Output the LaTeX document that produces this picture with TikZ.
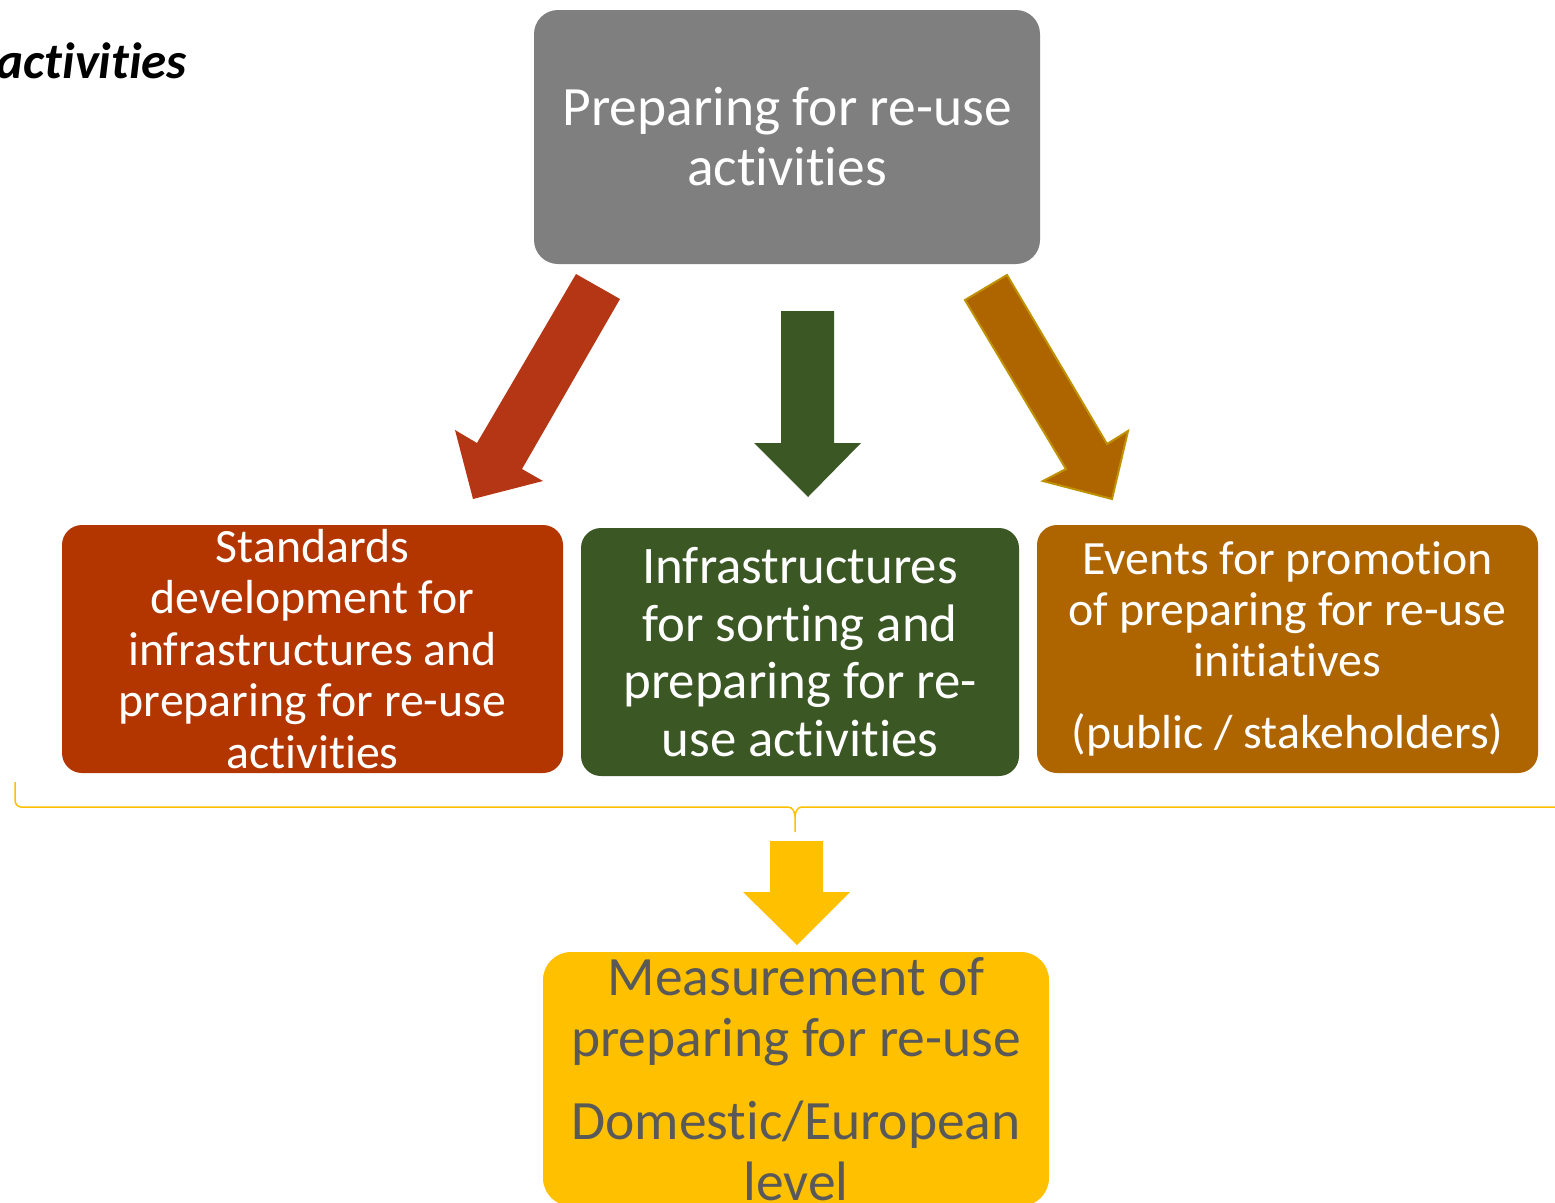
\documentclass[tikz,border=0pt]{standalone}
\usepackage{fontspec}
\setmainfont{Carlito}[Ligatures=NoCommon]
\definecolor{cgray}{HTML}{7F7F7F}
\definecolor{cred}{HTML}{B33500}
\definecolor{credarrow}{HTML}{B43614}
\definecolor{cgreen}{HTML}{3A5724}
\definecolor{cbrown}{HTML}{AE6500}
\definecolor{cbrownline}{HTML}{BF9000}
\definecolor{cyellow}{HTML}{FFC000}
\definecolor{ctext}{HTML}{595959}
\begin{document}
\begin{tikzpicture}[x=1pt,y=-1pt,
  box/.style={rounded corners=24pt, draw=none, align=center, inner sep=0pt, text=white},
  brace/.style={draw=cyellow, line width=1.5pt}]
\useasboundingbox (0,0) rectangle (1555,1202);
% title fragment
\node[anchor=base east, inner sep=0pt, font=\fontsize{51}{60}\selectfont\bfseries\itshape] (title) at (187,78) {activities};
% boxes
\node[box, fill=cgray, minimum width=506pt, minimum height=254pt, font=\fontsize{55.5}{60}\selectfont] (top) at (787,137) {Preparing for re-use\\activities};
\node[box, fill=cred, rounded corners=20pt, minimum width=501pt, minimum height=248pt, font=\fontsize{47.8}{51.5}\selectfont] (left) at (312.5,649) {Standards\\development for\\infrastructures and\\preparing for re-use\\activities};
\node[box, fill=cgreen, rounded corners=20pt, minimum width=438pt, minimum height=248pt, font=\fontsize{52.8}{57.5}\selectfont] (mid) at (800,652) {Infrastructures\\for sorting and\\preparing for re-\\use activities};
\node[box, fill=cbrown, rounded corners=20pt, minimum width=501pt, minimum height=248pt, font=\fontsize{47.8}{51}\selectfont] (right) at (1287.5,649) {Events for promotion\\of preparing for re-use\\initiatives\\[21pt](public / stakeholders)};
\node[box, fill=cyellow, text=ctext, rounded corners=28pt, minimum width=506pt, minimum height=254pt, font=\fontsize{55.5}{61}\selectfont] (bottom) at (796,1079) {Measurement of\\preparing for re-use\\[22pt]Domestic/European\\level};
% block arrows
\fill[credarrow] (576,274) -- (620,299) -- (522,469) -- (543,481) -- (473,499) -- (455,430) -- (477,443) -- cycle;
\fill[cgreen] (781,311) -- (834,311) -- (834,443) -- (861,443) -- (808,497) -- (754,443) -- (781,443) -- cycle;
\filldraw[fill=cbrown, draw=cbrownline, line width=2pt, line join=miter] (965,300) -- (1007,275) -- (1107,444) -- (1128,431) -- (1112,499) -- (1043,481) -- (1066,469) -- cycle;
\fill[cyellow] (770,841) -- (823,841) -- (823,892) -- (850,892) -- (797,945) -- (743,892) -- (770,892) -- cycle;
% brace
\coordinate (bl) at (15,782);
\coordinate (bt) at (795,832);
\draw[brace] (bl) -- (15,800) to[out=-90,in=180] (21,807) -- (788,807) to[out=0,in=90] (795,817) -- (bt);
\draw[brace] (795,817) to[out=90,in=180] (802,807) -- (1560,807);
\end{tikzpicture}
\end{document}
